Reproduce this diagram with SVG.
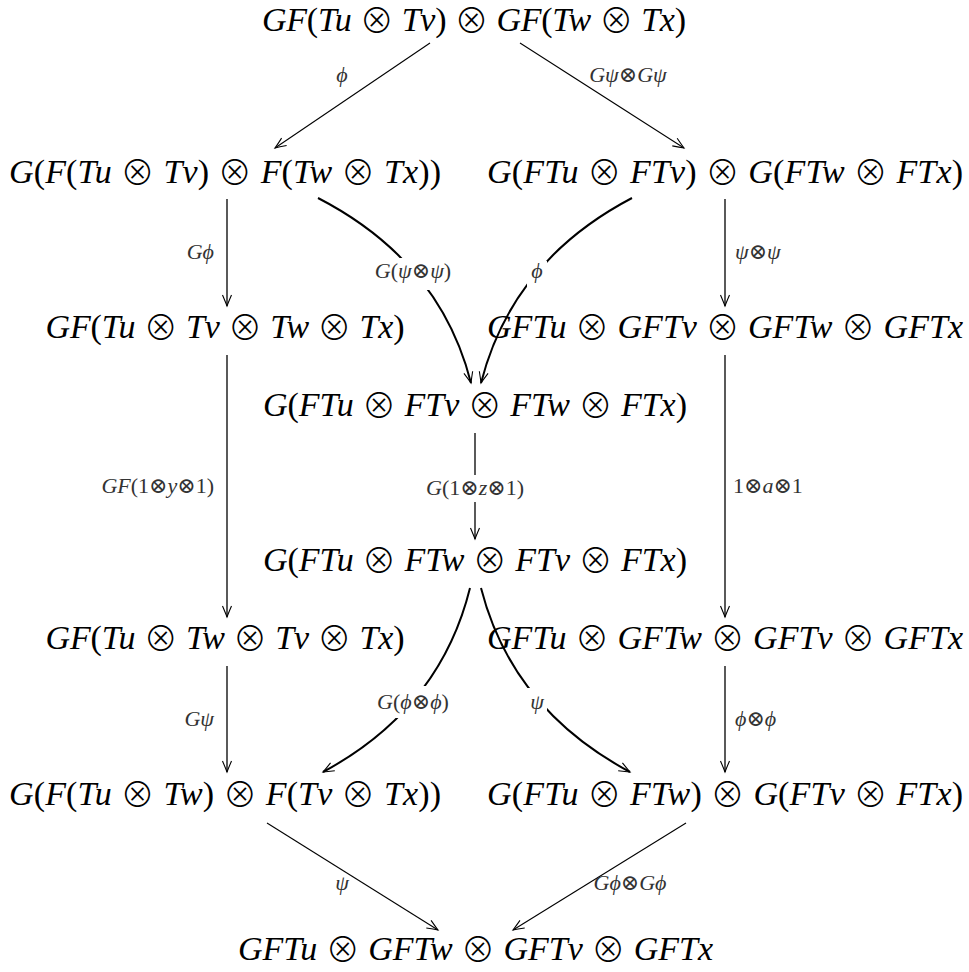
<svg xmlns="http://www.w3.org/2000/svg" width="969" height="972" viewBox="0 0 969 972">
<style>
.n{font-family:"Liberation Serif","DejaVu Serif",serif;font-size:34px;font-style:italic;fill:#000;text-anchor:middle}
.l{font-family:"Liberation Serif","DejaVu Serif",serif;font-size:22px;font-style:italic;fill:#333}
.u{font-style:normal}
.o{font-style:normal;font-family:"Noto Sans CJK JP","DejaVu Sans",sans-serif;font-weight:300;baseline-shift:-2px}
.ln{fill:none;stroke:#000;stroke-width:1.3}
.dg{fill:none;stroke:#000;stroke-width:1.1}
.cv{fill:none;stroke:#000;stroke-width:2}
.gap{fill:#fff}
</style>
<defs>
<marker id="ah" markerUnits="userSpaceOnUse" markerWidth="16" markerHeight="12" refX="12" refY="6" orient="auto" viewBox="0 0 16 12">
<path d="M1,1.5 Q8,4.5 12,6 Q8,7.5 1,10.5" fill="none" stroke="#000" stroke-width="1.1"/>
</marker>
</defs>
<rect width="969" height="972" fill="#fff"/>
<g id="connectors">
<line class="dg" x1="430" y1="43" x2="275" y2="148" marker-end="url(#ah)"/>
<line class="dg" x1="520" y1="43" x2="684" y2="148" marker-end="url(#ah)"/>
<line class="ln" x1="227" y1="199" x2="227" y2="306" marker-end="url(#ah)"/>
<line class="ln" x1="725" y1="199" x2="725" y2="306" marker-end="url(#ah)"/>
<path class="cv" d="M318,198 Q440,261 471,383" marker-end="url(#ah)"/>
<path class="cv" d="M632,198 Q512,261 481,383" marker-end="url(#ah)"/>
<line class="ln" x1="227" y1="355" x2="227" y2="617" marker-end="url(#ah)"/>
<line class="ln" x1="725" y1="355" x2="725" y2="617" marker-end="url(#ah)"/>
<line class="ln" x1="475" y1="433" x2="475" y2="539" marker-end="url(#ah)"/>
<path class="cv" d="M470,588 Q440,709 323,772" marker-end="url(#ah)"/>
<path class="cv" d="M481,588 Q512,709 630,772" marker-end="url(#ah)"/>
<line class="ln" x1="227" y1="666" x2="227" y2="772" marker-end="url(#ah)"/>
<line class="ln" x1="725" y1="666" x2="725" y2="772" marker-end="url(#ah)"/>
<line class="dg" x1="267" y1="823" x2="438" y2="930" marker-end="url(#ah)"/>
<line class="dg" x1="686" y1="823" x2="513" y2="930" marker-end="url(#ah)"/>
<rect class="gap" x="372" y="258" width="84" height="32"/>
<rect class="gap" x="527" y="261" width="20" height="28"/>
<rect class="gap" x="428" y="475" width="94" height="27"/>
<rect class="gap" x="372" y="686" width="84" height="32"/>
<rect class="gap" x="527" y="688" width="20" height="28"/>
<text class="l" x="342" y="82" text-anchor="middle">ϕ</text>
<text class="l" x="628" y="82" text-anchor="middle">Gψ<tspan class="u">⊗</tspan>Gψ</text>
<text class="l" x="214" y="259" text-anchor="end">Gϕ</text>
<text class="l" x="735" y="259">ψ<tspan class="u">⊗</tspan>ψ</text>
<text class="l" x="413" y="278" text-anchor="middle">G<tspan class="u">(</tspan>ψ<tspan class="u">⊗</tspan>ψ<tspan class="u">)</tspan></text>
<text class="l" x="537" y="278" text-anchor="middle">ϕ</text>
<text class="l" x="214" y="493" text-anchor="end">GF<tspan class="u">(1⊗</tspan>y<tspan class="u">⊗1)</tspan></text>
<text class="l" x="475" y="495" text-anchor="middle">G<tspan class="u">(1⊗</tspan>z<tspan class="u">⊗1)</tspan></text>
<text class="l" x="733" y="493"><tspan class="u">1⊗</tspan>a<tspan class="u">⊗1</tspan></text>
<text class="l" x="214" y="726" text-anchor="end">Gψ</text>
<text class="l" x="735" y="726">ϕ<tspan class="u">⊗</tspan>ϕ</text>
<text class="l" x="413" y="709" text-anchor="middle">G<tspan class="u">(</tspan>ϕ<tspan class="u">⊗</tspan>ϕ<tspan class="u">)</tspan></text>
<text class="l" x="537" y="709" text-anchor="middle">ψ</text>
<text class="l" x="342" y="890" text-anchor="middle">ψ</text>
<text class="l" x="630" y="890" text-anchor="middle">Gϕ<tspan class="u">⊗</tspan>Gϕ</text>
</g>
<g id="n1"><text class="n" x="474" y="31" textLength="424" lengthAdjust="spacing">GF<tspan class="u">(</tspan>Tu <tspan class="o">⊗</tspan> Tv<tspan class="u">)</tspan> <tspan class="o">⊗</tspan> GF<tspan class="u">(</tspan>Tw <tspan class="o">⊗</tspan> Tx<tspan class="u">)</tspan></text></g>
<g id="n2L"><text class="n" x="225" y="182.5" textLength="432" lengthAdjust="spacing">G<tspan class="u">(</tspan>F<tspan class="u">(</tspan>Tu <tspan class="o">⊗</tspan> Tv<tspan class="u">)</tspan> <tspan class="o">⊗</tspan> F<tspan class="u">(</tspan>Tw <tspan class="o">⊗</tspan> Tx<tspan class="u">))</tspan></text></g>
<g id="n2R"><text class="n" x="725" y="182.5" textLength="476" lengthAdjust="spacing">G<tspan class="u">(</tspan>FTu <tspan class="o">⊗</tspan> FTv<tspan class="u">)</tspan> <tspan class="o">⊗</tspan> G<tspan class="u">(</tspan>FTw <tspan class="o">⊗</tspan> FTx<tspan class="u">)</tspan></text></g>
<g id="n3L"><text class="n" x="225" y="338" textLength="359" lengthAdjust="spacing">GF<tspan class="u">(</tspan>Tu <tspan class="o">⊗</tspan> Tv <tspan class="o">⊗</tspan> Tw <tspan class="o">⊗</tspan> Tx<tspan class="u">)</tspan></text></g>
<g id="n3R"><text class="n" x="725" y="338" textLength="476" lengthAdjust="spacing">GFTu <tspan class="o">⊗</tspan> GFTv <tspan class="o">⊗</tspan> GFTw <tspan class="o">⊗</tspan> GFTx</text></g>
<g id="n4"><text class="n" x="475" y="416" textLength="424" lengthAdjust="spacing">G<tspan class="u">(</tspan>FTu <tspan class="o">⊗</tspan> FTv <tspan class="o">⊗</tspan> FTw <tspan class="o">⊗</tspan> FTx<tspan class="u">)</tspan></text></g>
<g id="n5"><text class="n" x="475" y="571" textLength="424" lengthAdjust="spacing">G<tspan class="u">(</tspan>FTu <tspan class="o">⊗</tspan> FTw <tspan class="o">⊗</tspan> FTv <tspan class="o">⊗</tspan> FTx<tspan class="u">)</tspan></text></g>
<g id="n6L"><text class="n" x="225" y="649" textLength="359" lengthAdjust="spacing">GF<tspan class="u">(</tspan>Tu <tspan class="o">⊗</tspan> Tw <tspan class="o">⊗</tspan> Tv <tspan class="o">⊗</tspan> Tx<tspan class="u">)</tspan></text></g>
<g id="n6R"><text class="n" x="725" y="649" textLength="476" lengthAdjust="spacing">GFTu <tspan class="o">⊗</tspan> GFTw <tspan class="o">⊗</tspan> GFTv <tspan class="o">⊗</tspan> GFTx</text></g>
<g id="n7L"><text class="n" x="225" y="804.5" textLength="432" lengthAdjust="spacing">G<tspan class="u">(</tspan>F<tspan class="u">(</tspan>Tu <tspan class="o">⊗</tspan> Tw<tspan class="u">)</tspan> <tspan class="o">⊗</tspan> F<tspan class="u">(</tspan>Tv <tspan class="o">⊗</tspan> Tx<tspan class="u">))</tspan></text></g>
<g id="n7R"><text class="n" x="725" y="804.5" textLength="476" lengthAdjust="spacing">G<tspan class="u">(</tspan>FTu <tspan class="o">⊗</tspan> FTw<tspan class="u">)</tspan> <tspan class="o">⊗</tspan> G<tspan class="u">(</tspan>FTv <tspan class="o">⊗</tspan> FTx<tspan class="u">)</tspan></text></g>
<g id="n8"><text class="n" x="475.5" y="960" textLength="475" lengthAdjust="spacing">GFTu <tspan class="o">⊗</tspan> GFTw <tspan class="o">⊗</tspan> GFTv <tspan class="o">⊗</tspan> GFTx</text></g>
</svg>
